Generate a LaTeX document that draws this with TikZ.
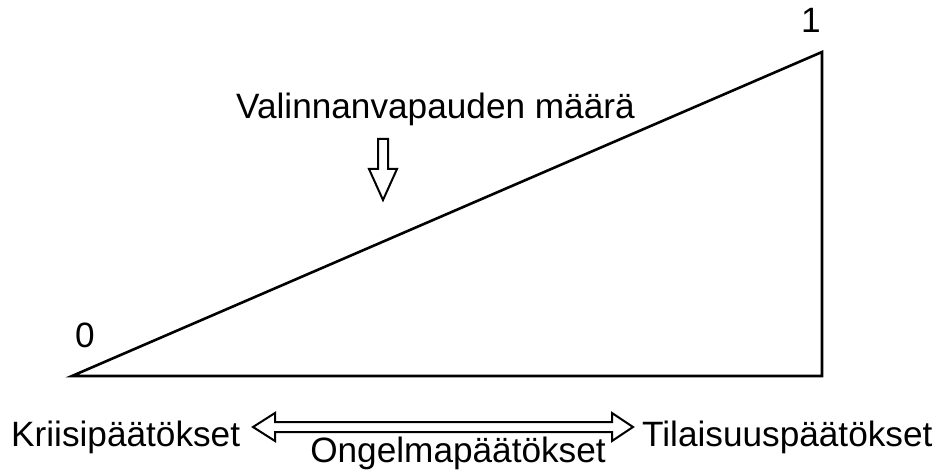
\documentclass[tikz,border=0pt]{standalone}
\usepackage{fontspec}
\setmainfont{Liberation Sans}
\begin{document}
\begin{tikzpicture}[x=1pt,y=-1pt,
  lbl/.style={inner sep=0pt,font=\fontsize{35.2}{40}\selectfont},
  edge/.style={line width=2.6pt,line join=miter},
  blockarrow/.style={line width=2pt,line join=miter,fill=white}]
\useasboundingbox (0,0) rectangle (939,470);
% triangle
\coordinate (L) at (72,376);
\coordinate (R) at (822,376);
\coordinate (T) at (822,52);
\draw[edge] (L) -- (R) -- (T) -- cycle;
% labels
\node[lbl,anchor=base] (zero) at (85,347) {0};
\node[lbl,anchor=base] (one) at (811,33) {1};
\node[lbl,anchor=base west] (valinta) at (236,119) {Valinnanvapauden määrä};
\node[lbl,anchor=base west] (kriisi) at (11,446) {Kriisipäätökset};
\node[lbl,anchor=base west] (tilaisuus) at (642,446) {Tilaisuuspäätökset};
\node[lbl,anchor=base] (ongelma) at (458,462) {Ongelmapäätökset};
% down block arrow
\draw[blockarrow] (378,139) -- (388,139) -- (388,169) -- (397,169) -- (383,200)
  -- (369,169) -- (378,169) -- cycle;
% double horizontal block arrow
\draw[blockarrow] (253,427) -- (275,413) -- (275,422) -- (612,422) -- (612,413)
  -- (633,427) -- (612,441) -- (612,432) -- (275,432) -- (275,441) -- cycle;
\end{tikzpicture}
\end{document}
